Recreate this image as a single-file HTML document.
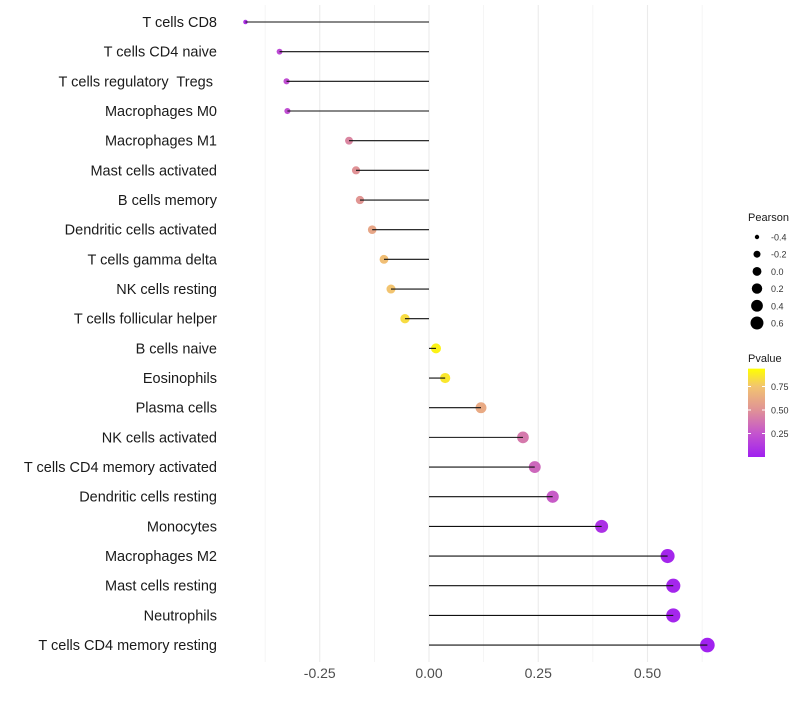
<!DOCTYPE html>
<html><head><meta charset="utf-8"><style>
body{margin:0;background:#fff;font-family:"Liberation Sans",sans-serif}
svg text{font-family:"Liberation Sans",sans-serif;white-space:pre}
</style></head><body>
<svg id="c" width="800" height="700"></svg>
<script>
const categories=["T cells CD8","T cells CD4 naive","T cells regulatory  Tregs ","Macrophages M0","Macrophages M1","Mast cells activated","B cells memory","Dendritic cells activated","T cells gamma delta","NK cells resting","T cells follicular helper","B cells naive","Eosinophils","Plasma cells","NK cells activated","T cells CD4 memory activated","Dendritic cells resting","Monocytes","Macrophages M2","Mast cells resting","Neutrophils","T cells CD4 memory resting"];
const pearson=[-0.42,-0.342,-0.326,-0.324,-0.183,-0.167,-0.158,-0.130,-0.103,-0.087,-0.055,0.016,0.037,0.119,0.215,0.242,0.283,0.395,0.546,0.559,0.559,0.637];
const pvalue=[0.08,0.2,0.22,0.22,0.45,0.5,0.52,0.6,0.72,0.75,0.85,0.95,0.9,0.62,0.4,0.33,0.28,0.08,0.03,0.03,0.03,0.01];
const xTicks=[-0.25,0,0.25,0.5];
const xTickLabels=["-0.25","0.00","0.25","0.50"];
const xMinor=[-0.375,-0.125,0.125,0.375,0.625];
const sizeLegend=[-0.4,-0.2,0.0,0.2,0.4,0.6];
const sizeLegendLabels=["-0.4","-0.2","0.0","0.2","0.4","0.6"];
const pTicks=[0.25,0.5,0.75];
const pTickLabels=["0.25","0.50","0.75"];

const NS="http://www.w3.org/2000/svg";
const svg=document.getElementById('c');
function mk(t,a,p){const e=document.createElementNS(NS,t);for(const k in a)e.setAttribute(k,a[k]);(p||svg).appendChild(e);return e;}
const x=v=>429+v*437;
const y=i=>22+i*29.67;
const rad=v=>Math.sqrt(Math.max(3,5+46*(v+0.42)));
const stops=[[0,[160,32,240]],[0.25,[196,84,206]],[0.5,[224,146,150]],[0.75,[242,196,112]],[1,[255,255,0]]];
function col(p){for(let i=1;i<stops.length;i++){if(p<=stops[i][0]){const a=stops[i-1],b=stops[i],t=(p-a[0])/(b[0]-a[0]);return 'rgb('+a[1].map((c,k)=>Math.round(c+(b[1][k]-c)*t)).join(',')+')';}}return 'rgb(255,255,0)';}

xMinor.forEach(v=>{const l=mk('line',{x1:x(v),x2:x(v),y1:5,y2:662,stroke:'#f2f2f2','stroke-width':0.8});

});
xTicks.forEach((v,i)=>{const l=mk('line',{x1:x(v),x2:x(v),y1:5,y2:662,stroke:'#ebebeb','stroke-width':1.1});


const t=mk('text',{x:x(v),y:678,'text-anchor':'middle','font-size':14,fill:'#4d4d4d'});t.textContent=xTickLabels[i];

});

categories.forEach((c,i)=>{
const t=mk('text',{x:217,y:y(i)+5,'text-anchor':'end','font-size':14.5,fill:'#1a1a1a'});t.textContent=c;


const d=mk('circle',{cx:x(pearson[i]),cy:y(i),r:rad(pearson[i]),fill:col(pvalue[i])});


const l=mk('line',{x1:x(0),x2:x(pearson[i]),y1:y(i),y2:y(i),stroke:'#111','stroke-width':1.1});


});

const g=mk('g',{});


mk('text',{x:748,y:221,'font-size':11,fill:'#1a1a1a'},g).textContent='Pearson';
sizeLegend.forEach((v,i)=>{const cy=237+i*17.2;
mk('circle',{cx:757,cy:cy,r:rad(v)*0.9,fill:'#000'},g);
mk('text',{x:771,y:cy+3.5,'font-size':9,fill:'#333'},g).textContent=sizeLegendLabels[i];});

const g2=mk('g',{});


mk('text',{x:748,y:362,'font-size':11,fill:'#1a1a1a'},g2).textContent='Pvalue';
const defs=mk('defs',{});const lg=mk('linearGradient',{id:'pg',x1:0,y1:1,x2:0,y2:0},defs);
const pMin=0,pMax=0.94;
stops.forEach(s=>{if(s[0]<=pMax+0.06)mk('stop',{offset:Math.min(1,(s[0]-pMin)/(pMax-pMin)),'stop-color':col(Math.min(s[0],1))},lg);});
const py=p=>457-p*94;
mk('rect',{x:748,y:py(pMax),width:17,height:py(pMin)-py(pMax),fill:'url(#pg)'},g2);
pTicks.forEach((p,i)=>{mk('line',{x1:748,x2:751,y1:py(p),y2:py(p),stroke:'#fff'},g2);mk('line',{x1:762,x2:765,y1:py(p),y2:py(p),stroke:'#fff'},g2);
mk('text',{x:771,y:py(p)+3.5,'font-size':9,fill:'#333'},g2).textContent=pTickLabels[i];});
</script>
</body></html>
